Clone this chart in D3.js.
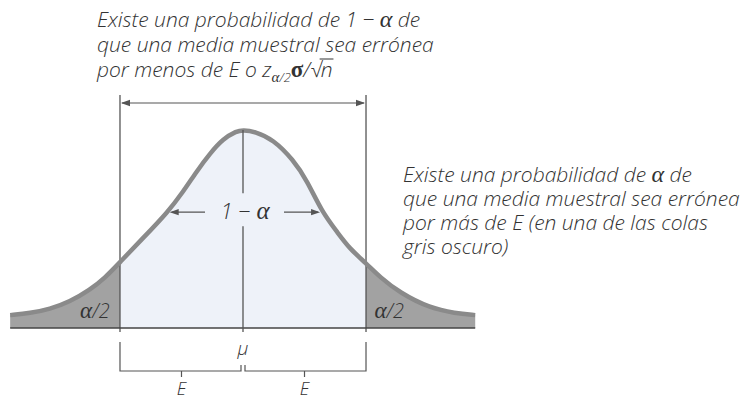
<!DOCTYPE html>
<html>
<head>
<meta charset="utf-8">
<script src="https://cdn.jsdelivr.net/npm/d3@7"></script>
<style>
  html, body { margin: 0; padding: 0; background: #fff; }
  svg text { font-family: "Open Sans", "DejaVu Sans", sans-serif; font-style: italic; font-weight: 300; fill: #333; }
  svg tspan.greek { font-family: "Liberation Serif", "DejaVu Serif", serif; font-style: italic; font-weight: 400; }
</style>
</head>
<body>
<svg id="chart" width="751" height="402"></svg>
<script>
// Sampling distribution of the sample mean (standardised units, μ = 0)
const curveZ = [-3.71, -3.39, -3.08, -2.76, -2.44, -2.20, -1.96, -1.59, -1.20, -0.96, -0.73, -0.53, -0.32, -0.10,
                0, 0.19, 0.48, 0.80, 1.02, 1.26, 1.50, 1.70, 1.96, 2.18, 2.50, 2.98, 3.38, 3.70];
const curveDensity = [0.026, 0.030, 0.038, 0.053, 0.077, 0.101, 0.133, 0.182, 0.234, 0.274, 0.318, 0.352, 0.382, 0.398,
                      0.400, 0.397, 0.381, 0.340, 0.298, 0.234, 0.194, 0.160, 0.131, 0.103, 0.071, 0.040, 0.030, 0.026];
const zCrit = 1.96;            // z_{α/2}: margin of error E in standard units
const centralLevel = 0.234;    // height where the "1 − α" arrows sit
// note lines as [text, isGreek] runs
const topNote = [
  [["Existe una probabilidad de 1 − ", false], ["α", true], [" de", false]],
  [["que una media muestral sea errónea", false]]
];
const topNoteLast = { pre: "por menos de E o z", sub: "α", subRest: "/2", post: "σ", slash: "/√", rad: "n" };
const sideNote = [
  [["Existe una probabilidad de ", false], ["α", true], [" de", false]],
  [["que una media muestral sea errónea", false]],
  [["por más de E (en una de las colas", false]],
  [["gris oscuro)", false]]
];
const tailLabel = [["α", true], ["/2", false]];
const centerLabel = [["1 − ", false], ["α", true]];
const meanLabel = "μ";
const errorLabel = "E";

const data = curveZ.map((z, i) => ({ z, d: curveDensity[i] }));
const svg = d3.select("#chart");

const x = d3.scaleLinear().domain([-4, 4]).range([243 - 4 * 62.76, 243 + 4 * 62.76]);
const y = d3.scaleLinear().domain([0, 0.4]).range([328, 130]);

const x0 = x(curveZ[0]), x1 = x(curveZ[curveZ.length - 1]);
const xl = x(-zCrit), xr = x(zCrit), xm = x(0);
const yb = y(0);

function runs(sel, parts, greekSize) {
  parts.forEach(([t, g]) => {
    const ts = sel.append("tspan").text(t);
    if (g) { ts.attr("class", "greek"); if (greekSize) ts.style("font-size", greekSize); }
  });
  return sel;
}

// clip regions: central part and the two tails
const defs = svg.append("defs");
defs.append("clipPath").attr("id", "mid").append("rect")
  .attr("x", xl).attr("y", 0).attr("width", xr - xl).attr("height", 402);
const tails = defs.append("clipPath").attr("id", "tails");
tails.append("rect").attr("x", 0).attr("y", 0).attr("width", xl).attr("height", 402);
tails.append("rect").attr("x", xr).attr("y", 0).attr("width", 751 - xr).attr("height", 402);

const area = d3.area().x(p => x(p.z)).y0(yb).y1(p => y(p.d)).curve(d3.curveBasis);
const line = d3.line().x(p => x(p.z)).y(p => y(p.d)).curve(d3.curveBasis);

svg.append("path").datum(data).attr("d", area).attr("fill", "#eef2f9").attr("clip-path", "url(#mid)");
svg.append("path").datum(data).attr("d", area).attr("fill", "#a2a2a2").attr("clip-path", "url(#tails)");

const ink = "#555";
function arrowHead(g, px, py, dir) {
  g.append("path")
    .attr("d", `M${px},${py}L${px - dir * 9},${py - 3.2}L${px - dir * 9},${py + 3.2}Z`)
    .attr("fill", ink);
}

// verticals at μ ± E
[xl, xr].forEach(v => {
  svg.append("line").attr("x1", v).attr("x2", v).attr("y1", 95).attr("y2", yb + 4)
    .attr("stroke", ink).attr("stroke-width", 1.3);
});

// curve outline
svg.append("path").datum(data).attr("d", line).attr("fill", "none")
  .attr("stroke", "#8a8a8a").attr("stroke-width", 4.5).attr("stroke-linecap", "butt");

// baseline
svg.append("line").attr("x1", x0).attr("x2", x1).attr("y1", yb).attr("y2", yb)
  .attr("stroke", "#444").attr("stroke-width", 1.6);

// top double arrow spanning μ ± E
const ta = 103;
svg.append("line").attr("x1", xl + 2).attr("x2", xr - 2).attr("y1", ta).attr("y2", ta)
  .attr("stroke", ink).attr("stroke-width", 1.2);
arrowHead(svg, xl + 1, ta, -1);
arrowHead(svg, xr - 1, ta, 1);

// crossing points of the curve at the central level
function crossing(side) {
  const pts = side < 0 ? data.filter(p => p.z <= 0) : data.filter(p => p.z >= 0).reverse();
  for (let i = 0; i < pts.length - 1; i++) {
    const a = pts[i], b = pts[i + 1];
    if ((a.d - centralLevel) * (b.d - centralLevel) <= 0) {
      const t = (centralLevel - a.d) / (b.d - a.d);
      return a.z + t * (b.z - a.z);
    }
  }
  return 0;
}
const ya = y(centralLevel);
const cxL = x(crossing(-1)), cxR = x(crossing(1));

// center line at μ with gap for the label
svg.append("line").attr("x1", xm).attr("x2", xm).attr("y1", y(0.4)).attr("y2", ya - 19)
  .attr("stroke", ink).attr("stroke-width", 1.3);
svg.append("line").attr("x1", xm).attr("x2", xm).attr("y1", ya + 14).attr("y2", yb + 4)
  .attr("stroke", ink).attr("stroke-width", 1.3);

// 1 − α label and arrows
runs(svg.append("text").attr("x", xm + 2).attr("y", ya + 7).attr("text-anchor", "middle")
  .style("font-size", "22px"), centerLabel, "25px");
svg.append("line").attr("x1", xm - 38).attr("x2", cxL + 4).attr("y1", ya).attr("y2", ya)
  .attr("stroke", ink).attr("stroke-width", 1.2);
arrowHead(svg, cxL + 2, ya, -1);
svg.append("line").attr("x1", xm + 41).attr("x2", cxR - 4).attr("y1", ya).attr("y2", ya)
  .attr("stroke", ink).attr("stroke-width", 1.2);
arrowHead(svg, cxR - 2, ya, 1);

// tail labels
[-2.36, 2.33].forEach(z => {
  runs(svg.append("text").attr("x", x(z)).attr("y", yb - 10).attr("text-anchor", "middle")
    .style("font-size", "20px"), tailLabel, "23px");
});

// μ label
svg.append("text").attr("x", xm).attr("y", yb + 27).attr("text-anchor", "middle")
  .style("font-size", "19px").text(meanLabel);

// bracket below the axis showing E on each side
const by = 371;
const bracket = svg.append("g").attr("stroke", ink).attr("stroke-width", 1.2).attr("fill", "none");
bracket.append("path").attr("d", `M${xl},${yb + 14}V${by}H${xm - 2}V${by - 6}`);
bracket.append("path").attr("d", `M${xr},${yb + 14}V${by}H${xm + 2}V${by - 6}`);
[-zCrit / 2, zCrit / 2].forEach(z => {
  bracket.append("line").attr("x1", x(z)).attr("x2", x(z)).attr("y1", by).attr("y2", by + 6);
  svg.append("text").attr("x", x(z)).attr("y", by + 24).attr("text-anchor", "middle")
    .style("font-size", "18px").text(errorLabel);
});

// top note
const tx = 97, tFont = "21px", tLead = 25, gFont = "24px";
topNote.forEach((parts, i) => {
  runs(svg.append("text").attr("x", tx).attr("y", 27 + i * tLead).style("font-size", tFont), parts, gFont);
});
const last = svg.append("text").attr("x", tx).attr("y", 27 + 2 * tLead).style("font-size", tFont);
last.append("tspan").text(topNoteLast.pre);
last.append("tspan").attr("dy", 5).attr("class", "greek").style("font-size", "15px").text(topNoteLast.sub);
last.append("tspan").style("font-size", "13px").text(topNoteLast.subRest);
last.append("tspan").attr("dy", -5).attr("class", "greek").style("font-style", "normal")
  .style("font-weight", 700).style("font-size", "23px").text(topNoteLast.post);
last.append("tspan").text(topNoteLast.slash);
last.append("tspan").text(topNoteLast.rad);
const nIdx = (topNoteLast.pre + topNoteLast.sub + topNoteLast.subRest + topNoteLast.post + topNoteLast.slash).length;
const ext = last.node().getExtentOfChar(nIdx);
const sq = last.node().getExtentOfChar(nIdx - 1);
svg.append("line").attr("x1", sq.x + sq.width - 1).attr("x2", ext.x + ext.width + 1)
  .attr("y1", sq.y + 4).attr("y2", sq.y + 4).attr("stroke", "#333").attr("stroke-width", 1);

// side note
sideNote.forEach((parts, i) => {
  runs(svg.append("text").attr("x", 403).attr("y", 182 + i * 24).style("font-size", tFont), parts, gFont);
});
</script>
</body>
</html>
